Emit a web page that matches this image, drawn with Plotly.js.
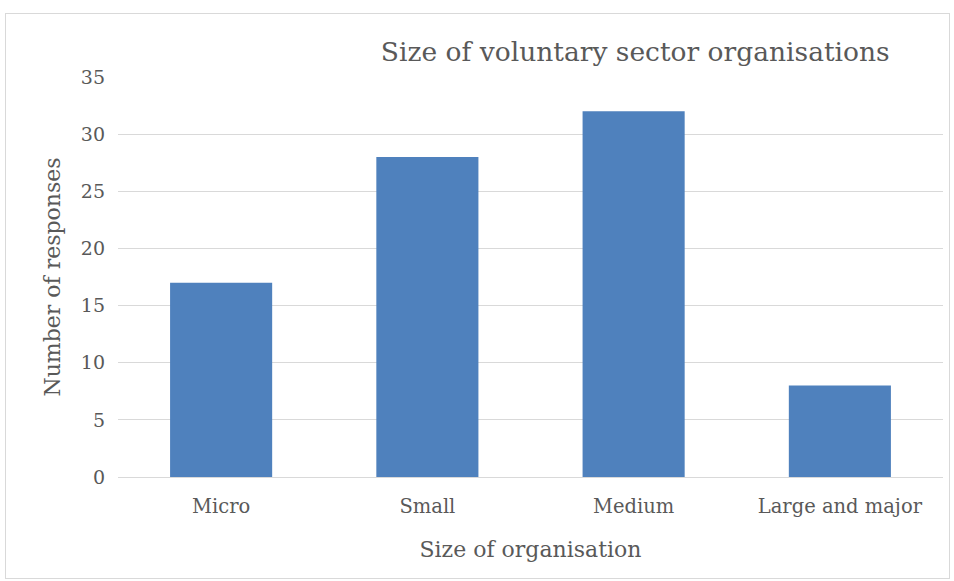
<!DOCTYPE html>
<html>
<head>
<meta charset="utf-8">
<script src="https://cdn.plot.ly/plotly-3.0.1.min.js"></script>
<style>
  html, body { margin: 0; padding: 0; background: #fff; }
  #wrap { position: relative; width: 954px; height: 581px; }
  #chart { position: absolute; left: 0; top: 0; width: 954px; height: 581px; }
  #frame { position: absolute; left: 5px; top: 13px; width: 945px; height: 566px;
           border: 1px solid #d9d9d9; pointer-events: none; box-sizing: border-box; }
</style>
</head>
<body>
<div id="wrap">
  <div id="chart"></div>
  <div id="frame"></div>
</div>
<script>
const categories = ["Micro", "Small", "Medium", "Large and major"];
const responses = [17, 28, 32, 8];
const yTicks = [0, 5, 10, 15, 20, 25, 30, 35];

const FONT = "DejaVu Serif, Liberation Serif, serif";
const GREY = "#595959";

const trace = {
  type: "bar",
  x: categories,
  y: responses,
  marker: { color: "#4f81bd", line: { width: 0 } },
  hoverinfo: "x+y"
};

const layout = {
  width: 954,
  height: 581,
  margin: { l: 118, r: 11, t: 77, b: 104 },
  paper_bgcolor: "rgba(0,0,0,0)",
  plot_bgcolor: "rgba(0,0,0,0)",
  bargap: 0.505,
  showlegend: false,
  font: { family: FONT, color: GREY, size: 19 },
  title: {
    text: "Size of voluntary sector organisations",
    font: { family: FONT, size: 26.5, color: GREY },
    xref: "paper", x: 0.627, xanchor: "center",
    yref: "container", y: 1 - 52 / 581, yanchor: "middle"
  },
  xaxis: {
    type: "category",
    showgrid: false,
    showline: true,
    linecolor: "#d9d9d9",
    linewidth: 1,
    ticks: "",
    ticklabelstandoff: 12,
    tickfont: { family: FONT, size: 19.5, color: GREY },
    title: { text: "Size of organisation", font: { family: FONT, size: 22, color: GREY }, standoff: 24 }
  },
  yaxis: {
    range: [0, 35],
    tickvals: yTicks,
    ticktext: yTicks.map(String),
    showgrid: true,
    gridcolor: "#d9d9d9",
    gridwidth: 1,
    zeroline: false,
    showline: false,
    ticks: "",
    ticklabelstandoff: 12,
    tickfont: { family: FONT, size: 19, color: GREY },
    title: { text: "Number of responses", font: { family: FONT, size: 22, color: GREY }, standoff: 14 }
  }
};

Plotly.newPlot("chart", [trace], layout, { displayModeBar: false, staticPlot: false });
</script>
</body>
</html>
